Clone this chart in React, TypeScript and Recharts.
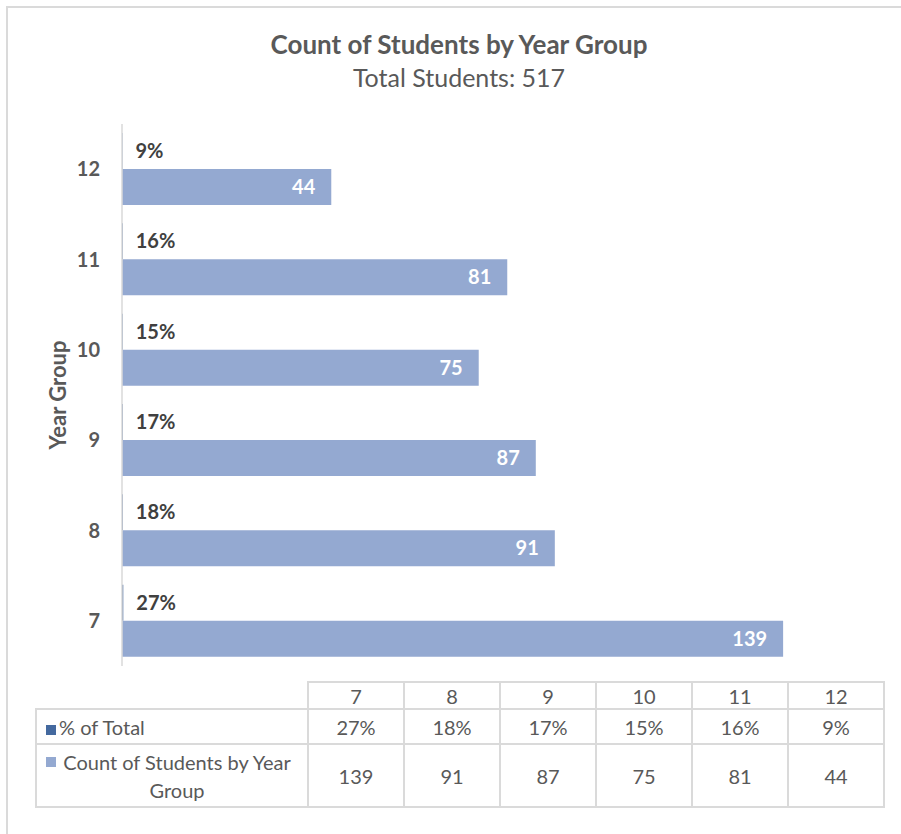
import React from 'react';
import { BarChart, Bar, XAxis, YAxis, LabelList } from 'recharts';

const years = ['7', '8', '9', '10', '11', '12'];
const pctOfTotal = [0.27, 0.18, 0.17, 0.15, 0.16, 0.09];
const studentCounts = [139, 91, 87, 75, 81, 44];
const seriesNames = ['% of Total', 'Count of Students by Year Group'];
const seriesColors = ['#44699F', '#94A9D1'];
const chartTitle = 'Count of Students by Year Group';
const chartSubtitle = 'Total Students: 517';
const axisTitle = 'Year Group';
const xDomain = [0, 160];

const rows = years.map((y, i) => ({ year: y, pct: pctOfTotal[i], count: studentCounts[i] }));
const pctFmt = (v: any) => `${Math.round(Number(v) * 100)}%`;

const FONT = "Lato, 'Open Sans', sans-serif";
const GRID = '#dadada';

export default function App() {
  const cellBase: React.CSSProperties = {
    border: `2px solid ${GRID}`,
    textAlign: 'center',
    verticalAlign: 'middle',
    padding: 0,
    color: '#595959',
    fontSize: 20,
  };
  return (
    <div style={{ position: 'absolute', left: 0, top: 0, width: 901, height: 834, overflow: 'hidden', background: '#fff', fontFamily: FONT }}>
      <div style={{ position: 'absolute', left: 6, top: 6, width: 1000, height: 1000, border: `2px solid ${GRID}` }} />
      <div style={{ position: 'absolute', left: 0, width: 918, top: 28, textAlign: 'center', fontSize: 26, fontWeight: 700, color: '#595959', lineHeight: '32px' }}>{chartTitle}</div>
      <div style={{ position: 'absolute', left: 0, width: 918, top: 61, textAlign: 'center', fontSize: 25, fontWeight: 400, color: '#595959', lineHeight: '32px' }}>{chartSubtitle}</div>
      <div style={{ position: 'absolute', left: 57, top: 395, transform: 'translate(-50%, -50%) rotate(-90deg)', whiteSpace: 'nowrap', fontSize: 22, fontWeight: 700, color: '#595959' }}>{axisTitle}</div>
      <div style={{ position: 'absolute', left: 0, top: 0 }}>
        <BarChart width={901} height={700} data={rows} layout="vertical" barGap={0} margin={{ top: 124, right: 18, bottom: 34, left: 62 }}>
          <XAxis type="number" domain={xDomain} hide />
          <YAxis
            type="category"
            dataKey="year"
            reversed
            width={60}
            tickLine={false}
            tickSize={0}
            tickMargin={22}
            axisLine={{ stroke: '#d9d9d9', strokeWidth: 1.5 }}
            tick={{ fill: '#595959', fontSize: 20, fontWeight: 700, fontFamily: FONT }}
          />
          <Bar dataKey="pct" name={seriesNames[0]} fill={seriesColors[0]} barSize={36} isAnimationActive={false}>
            <LabelList dataKey="pct" position="right" offset={13} formatter={pctFmt} style={{ fill: '#404040', fontSize: 20, fontWeight: 700, fontFamily: FONT }} />
          </Bar>
          <Bar dataKey="count" name={seriesNames[1]} fill={seriesColors[1]} barSize={36} isAnimationActive={false}>
            <LabelList dataKey="count" position="insideRight" offset={16} style={{ fill: '#ffffff', fontSize: 20, fontWeight: 700, fontFamily: FONT }} />
          </Bar>
        </BarChart>
      </div>
      <table style={{ position: 'absolute', left: 35, top: 681, borderCollapse: 'collapse', tableLayout: 'fixed', width: 848 }}>
        <colgroup>
          <col style={{ width: 272 }} />
          {years.map((y) => <col key={y} style={{ width: 96 }} />)}
        </colgroup>
        <tbody>
          <tr style={{ height: 27 }}>
            <td style={{ ...cellBase, border: 'none' }} />
            {years.map((y) => <td key={y} style={cellBase}>{y}</td>)}
          </tr>
          <tr style={{ height: 35 }}>
            <td style={{ ...cellBase, textAlign: 'left' }}>
              <span style={{ display: 'inline-block', width: 10, height: 10, background: seriesColors[0], marginLeft: 9, marginRight: 3 }} />
              <span>{seriesNames[0]}</span>
            </td>
            {pctOfTotal.map((v, i) => <td key={i} style={cellBase}>{pctFmt(v)}</td>)}
          </tr>
          <tr style={{ height: 63 }}>
            <td style={{ ...cellBase, textAlign: 'left' }}>
              <div style={{ display: 'flex', alignItems: 'flex-start' }}>
                <span style={{ display: 'inline-block', width: 10, height: 10, background: seriesColors[1], marginLeft: 9, marginRight: 3, marginTop: 9, flex: 'none' }} />
                <span style={{ textAlign: 'center', lineHeight: '28px', width: 236 }}>{seriesNames[1]}</span>
              </div>
            </td>
            {studentCounts.map((v, i) => <td key={i} style={cellBase}>{v}</td>)}
          </tr>
        </tbody>
      </table>
    </div>
  );
}
